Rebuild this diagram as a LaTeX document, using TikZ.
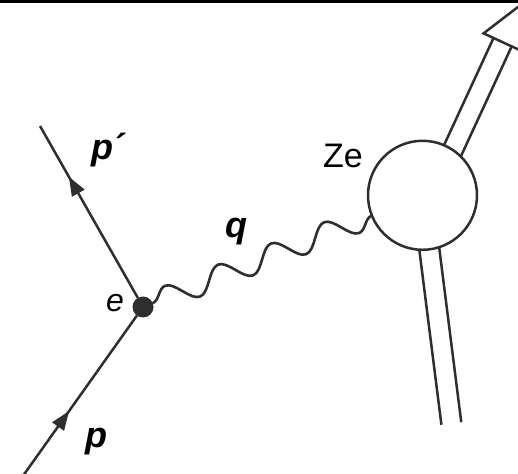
\documentclass[tikz,border=0pt]{standalone}
\usepackage{fontspec}
\setmainfont{Liberation Sans}
\usetikzlibrary{arrows.meta,decorations.pathmorphing,decorations.markings}
\definecolor{linecol}{HTML}{2E2E2E}
\tikzset{
  lbl/.style={inner sep=0pt, outer sep=0pt, text=black},
  fermion/.style={draw=linecol, line width=2.5pt},
  midarrow/.style={postaction={decorate, decoration={markings,
      mark=at position #1 with {\arrow[linecol]{Triangle[length=19pt,width=14pt]}}}}},
  photon/.style={draw=linecol, line width=2.6pt, decorate,
      decoration={snake, amplitude=11.5pt, segment length=57.1pt}},
  dbl/.style={draw=linecol, line width=2.5pt},
}
\begin{document}
\begin{tikzpicture}[x=1pt,y=1pt]
\useasboundingbox (0,0) rectangle (518,473);
\fill[black] (0,470.2) rectangle (518,473);
% nucleus
\node[circle, draw=linecol, line width=2.5pt, minimum size=109pt, inner sep=0pt, outer sep=0pt] (Z) at (422.5,277.7) {};
% vertex
\node[circle, fill=linecol, minimum size=21pt, inner sep=0pt, outer sep=0pt] (e) at (143,166) {};
\coordinate (pend) at (40,347);
\coordinate (pstart) at (21.5,-5);
% fermion lines
\draw[fermion, midarrow=0.412] (pstart) -- (e);
\draw[fermion, midarrow=0.705] (e) -- (pend);
% photon
\draw[photon] (e) -- (Z);
% outgoing (upper) double line with hollow arrow head
\begin{scope}[shift={(422.5,277.7)}, rotate=65.2]
  \draw[dbl] (54.5,1.5) -- (172.6,1.5);
  \draw[dbl] (51.3,-18.5) -- (172.6,-18.5);
  \draw[dbl, line join=miter] (172.6,12.5) -- (212.6,-8.5) -- (172.6,-29.5) -- cycle;
\end{scope}
% incoming (lower) double line
\begin{scope}[shift={(422.5,277.7)}, rotate=-82.8]
  \draw[dbl] (53.6,-10) -- (230,-10);
  \draw[dbl] (53.6,10) -- (230,10);
\end{scope}
% labels
\node[lbl, anchor=base west, font=\fontsize{36}{40}\selectfont\bfseries\itshape] (lpp) at (91,313) {p´};
\node[lbl, anchor=base west, font=\fontsize{36}{40}\selectfont\bfseries\itshape] (lp) at (85,25.5) {p};
\node[lbl, anchor=base west, font=\fontsize{36}{40}\selectfont\bfseries\itshape] (lq) at (225,235.5) {q};
\node[lbl, anchor=base west, font=\fontsize{32}{36}\selectfont\itshape] (le) at (106,161) {e};
\node[lbl, anchor=base west, font=\fontsize{34}{38}\selectfont] (lZe) at (323,305) {Ze};
\end{tikzpicture}
\end{document}
